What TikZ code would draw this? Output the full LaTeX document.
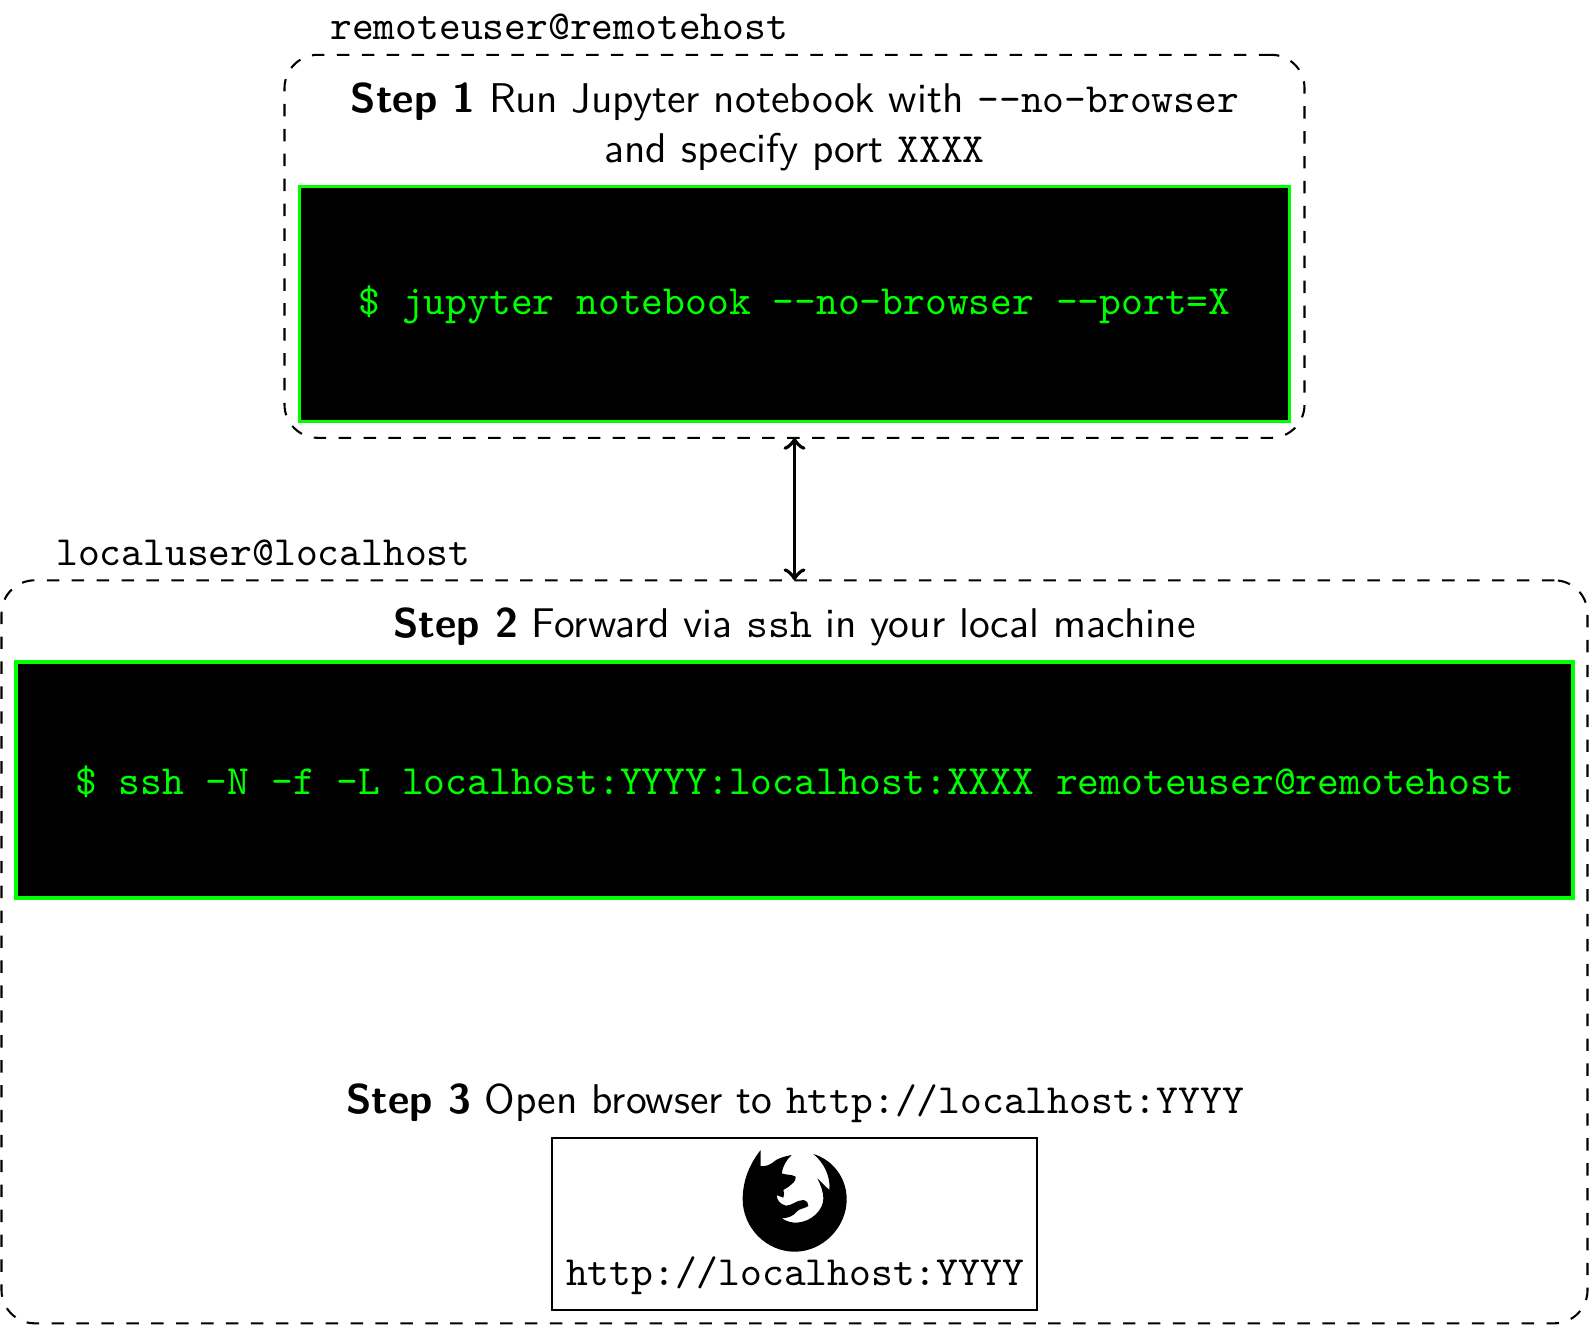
\documentclass[tikz,border=0pt]{standalone}
\usepackage{xcolor}
\tikzset{
  host/.style={draw,dashed,line width=0.5pt,rounded corners=8pt,inner sep=0pt,outer sep=0pt},
  terminal/.style={draw=green,fill=black,text=green,line width=0.75pt,inner sep=0pt,outer sep=0pt,font=\ttfamily},
  browser/.style={draw,line width=0.5pt,inner sep=0pt,outer sep=0pt},
  caption/.style={font=\sffamily,inner sep=0pt,anchor=base},
  ttlabel/.style={font=\ttfamily,inner sep=0pt,anchor=base west},
  link/.style={<->,line width=0.95pt}
}
\begin{document}
\begin{tikzpicture}[x=0.2408pt,y=-0.2408pt]
\useasboundingbox (0,0) rectangle (1589,1324);
\node[host,minimum width=1020*0.2408pt,minimum height=383*0.2408pt] (remote) at (794.5,246.3) {};
\node[host,minimum width=1586*0.2408pt,minimum height=743*0.2408pt] (local) at (794.5,951.8) {};
\node[terminal,minimum width=990.5*0.2408pt,minimum height=235*0.2408pt] (term1) at (794.5,304) {\raisebox{-0.3pt}[\height][\depth]{\$ jupyter notebook -{}-no-browser -{}-port=X}};
\node[terminal,minimum width=1557*0.2408pt,minimum height=236*0.2408pt] (term2) at (794.5,780) {\raisebox{-0.5pt}[\height][\depth]{\$ ssh -N -f -L localhost:YYYY:localhost:XXXX remoteuser@remotehost}};
\node[browser,minimum width=485*0.2408pt,minimum height=172*0.2408pt] (win) at (794.5,1223.6) {};
\node[ttlabel] (rlabel) at (329.5,39.5) {remoteuser@remotehost};
\node[ttlabel] (llabel) at (55.5,565.5) {localuser@localhost};
\node[caption] (s1a) at (795,112.5) {\textbf{Step 1} Run Jupyter notebook with \texttt{-{}-no-browser}};
\node[caption] (s1b) at (794.5,162.5) {and specify port \texttt{XXXX}};
\node[caption] (s2) at (794.5,637.8) {\textbf{Step 2} Forward via \texttt{ssh} in your local machine};
\node[caption] (s3) at (795,1113.5) {\textbf{Step 3} Open browser to \texttt{http://localhost:YYYY}};
\node[font=\ttfamily,inner sep=0pt,anchor=base] (url) at (795,1285.5) {http://localhost:YYYY};
\draw[link] (remote.south) -- (local.north);
\begin{scope}[shift={(700,1110)},x=0.08027pt,y=-0.08027pt]
\fill[black] (182,120) -- (182,168) .. controls (195,170) and (210,166) .. (228,150)
  .. controls (243,142) and (258,138) .. (275,135)
  .. controls (258,150) and (248,170) .. (245,190)
  .. controls (260,196) and (275,192) .. (287,200)
  .. controls (288,208) and (285,213) .. (280,218)
  -- (266,230) -- (250,240) .. controls (252,247) and (254,254) .. (250,263)
  -- (230,255) .. controls (230,268) and (238,282) .. (258,287)
  .. controls (275,287) and (290,270) .. (310,270)
  .. controls (320,272) and (327,280) .. (325,288)
  .. controls (312,296) and (298,296) .. (290,305)
  .. controls (278,320) and (262,324) .. (245,325)
  .. controls (262,335) and (275,338) .. (290,338)
  .. controls (335,335) and (370,300) .. (370,265)
  .. controls (370,245) and (362,225) .. (352,205)
  -- (388,240) .. controls (392,205) and (375,160) .. (340,132)
  .. controls (400,150) and (440,205) .. (440,268)
  .. controls (440,352) and (368,425) .. (284,425)
  .. controls (198,425) and (128,352) .. (128,268)
  .. controls (128,210) and (150,160) .. (182,120) -- cycle;
\end{scope}
\end{tikzpicture}
\end{document}
